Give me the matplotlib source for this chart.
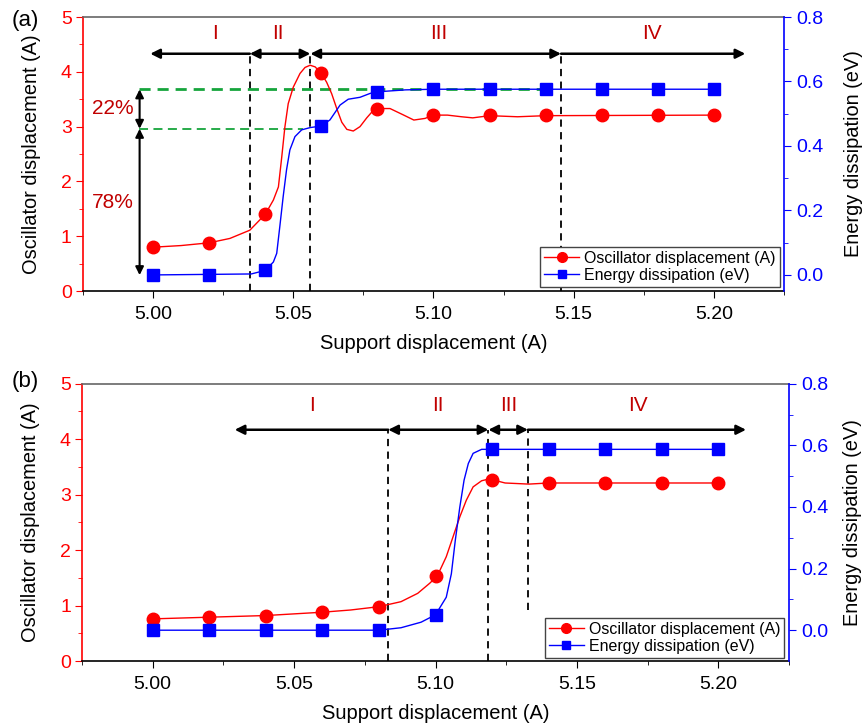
import matplotlib
matplotlib.use("Agg")
import matplotlib.pyplot as plt
import matplotlib.ticker as mtick
from matplotlib.lines import Line2D

plt.rcParams["font.family"] = ["Liberation Sans", "DejaVu Sans"]

# support displacement at the computed points
support = [5.00, 5.02, 5.04, 5.06, 5.08, 5.10, 5.12, 5.14, 5.16, 5.18, 5.20]

# panel (a)
osc_a = [0.80, 0.88, 1.40, 3.98, 3.33, 3.21, 3.21, 3.21, 3.21, 3.21, 3.21]
eng_a = [0.0, 0.0, 0.014, 0.462, 0.568, 0.576, 0.576, 0.576, 0.576, 0.576, 0.576]

# smooth curves (a)
osc_a_cx = [5.000, 5.010, 5.020, 5.0274, 5.0345, 5.040, 5.0429, 5.0447, 5.0459,
            5.047, 5.0482, 5.050, 5.0524, 5.0542, 5.056, 5.0578, 5.060, 5.0619,
            5.0637, 5.0655, 5.0673, 5.0691, 5.0714, 5.0738, 5.0762, 5.0786,
            5.080, 5.0845, 5.089, 5.093, 5.097, 5.100, 5.105, 5.110, 5.114,
            5.120, 5.130, 5.140, 5.200]
osc_a_cy = [0.80, 0.83, 0.88, 0.96, 1.11, 1.40, 1.66, 1.90, 2.45,
            2.99, 3.42, 3.72, 3.97, 4.08, 4.12, 4.09, 3.97, 3.81,
            3.60, 3.33, 3.08, 2.95, 2.92, 3.00, 3.16, 3.30,
            3.33, 3.33, 3.22, 3.12, 3.15, 3.21, 3.21, 3.18, 3.16,
            3.20, 3.18, 3.20, 3.21]
eng_a_cx = [5.000, 5.035, 5.040, 5.0429, 5.0441, 5.0452, 5.0464, 5.0476, 5.0488,
            5.0506, 5.053, 5.056, 5.060, 5.0631, 5.0667, 5.0696, 5.0738, 5.0774,
            5.080, 5.090, 5.100, 5.200]
eng_a_cy = [0.0, 0.003, 0.014, 0.040, 0.067, 0.150, 0.243, 0.326, 0.388,
            0.429, 0.450, 0.457, 0.462, 0.481, 0.527, 0.545, 0.551, 0.563,
            0.568, 0.574, 0.576, 0.576]

# panel (b)
osc_b = [0.76, 0.79, 0.82, 0.88, 0.98, 1.53, 3.27, 3.21, 3.21, 3.21, 3.21]
eng_b = [0.0, 0.0, 0.0, 0.0, 0.0, 0.05, 0.587, 0.587, 0.587, 0.587, 0.587]

osc_b_cx = [5.000, 5.020, 5.040, 5.060, 5.070, 5.080, 5.0878, 5.0937, 5.0979,
            5.1006, 5.1038, 5.1062, 5.1086, 5.1109, 5.1133, 5.1163, 5.1187,
            5.120, 5.1246, 5.133, 5.140, 5.200]
osc_b_cy = [0.76, 0.79, 0.82, 0.88, 0.92, 0.98, 1.07, 1.22, 1.40,
            1.53, 1.88, 2.24, 2.60, 2.90, 3.14, 3.25, 3.28,
            3.27, 3.21, 3.19, 3.21, 3.21]
eng_b_cx = [5.000, 5.080, 5.0878, 5.0949, 5.100, 5.1038, 5.1056, 5.107, 5.1086,
            5.1101, 5.1116, 5.1133, 5.1163, 5.200]
eng_b_cy = [0.0, 0.0, 0.008, 0.026, 0.050, 0.107, 0.183, 0.292, 0.400,
            0.487, 0.541, 0.574, 0.587, 0.587]

# stage boundaries and labels
stages = ["I", "II", "III", "IV"]
bounds_a = [4.999, 5.0345, 5.0561, 5.1455, 5.2112]
stage_x_a = [5.022, 5.0446, 5.102, 5.178]
bounds_b = [5.029, 5.0833, 5.1187, 5.1327, 5.2098]
stage_x_b = [5.0563, 5.1008, 5.1258, 5.1717]

# energy split in (a)
split_levels = [3.68, 2.96, 0.29]
split_text = ["22%", "78%"]

RED = "#ff0000"
BLUE = "#0000ff"
DARKRED = "#c00000"
GREEN = "#16a53c"


def style_axes(ax1, ax2, e_lim, right_pad=15):
    ax1.set_xlim(4.975, 5.225)
    ax1.set_ylim(0, 5)
    ax2.set_ylim(*e_lim)
    ax1.xaxis.set_major_locator(mtick.MultipleLocator(0.05))
    ax1.xaxis.set_minor_locator(mtick.AutoMinorLocator(2))
    ax1.xaxis.set_major_formatter(mtick.FormatStrFormatter("%.2f"))
    ax1.yaxis.set_major_locator(mtick.MultipleLocator(1))
    ax1.yaxis.set_minor_locator(mtick.AutoMinorLocator(2))
    ax2.yaxis.set_major_locator(mtick.FixedLocator([0.0, 0.2, 0.4, 0.6, 0.8]))
    ax2.yaxis.set_minor_locator(mtick.FixedLocator([0.1, 0.3, 0.5, 0.7]))
    ax2.yaxis.set_major_formatter(mtick.FormatStrFormatter("%.1f"))

    ax1.tick_params(axis="x", which="major", direction="out", length=5, labelsize=14, pad=6)
    ax1.tick_params(axis="x", which="minor", direction="out", length=3)
    ax1.tick_params(axis="y", which="both", colors=RED, direction="out")
    ax1.tick_params(axis="y", which="major", length=5, labelsize=14, pad=3)
    ax1.tick_params(axis="y", which="minor", length=3)
    ax2.tick_params(axis="y", which="both", colors=BLUE, direction="out")
    ax2.tick_params(axis="y", which="major", length=5, labelsize=14)
    ax2.tick_params(axis="y", which="minor", length=3)

    ax1.spines["left"].set_color(RED)
    ax1.spines["right"].set_visible(False)
    ax1.spines["top"].set_color("#666666")
    ax2.spines["right"].set_color(BLUE)
    ax2.spines["left"].set_visible(False)
    ax2.spines["top"].set_visible(False)
    ax2.spines["bottom"].set_visible(False)
    for sp in ax1.spines.values():
        sp.set_linewidth(1.2)
    ax2.spines["right"].set_linewidth(1.2)

    ax1.set_xlabel("Support displacement (A)", fontsize=14.5, labelpad=8)
    ax1.set_ylabel("Oscillator displacement (A)", fontsize=14.4, labelpad=14)
    ax2.set_ylabel("Energy dissipation (eV)", fontsize=14.4, labelpad=right_pad)


def draw_stages(ax, bounds, label_x, arrow_y, label_y, last_dash_from=None):
    styles = ["-|>", "<|-|>", "<|-|>", "-|>"]
    for i in range(4):
        if i == 0:
            start, end = bounds[1], bounds[0]
        else:
            start, end = bounds[i], bounds[i + 1]
        ax.annotate("", xy=(end, arrow_y), xytext=(start, arrow_y),
                    arrowprops=dict(arrowstyle=styles[i], color="black", lw=1.8,
                                    mutation_scale=14, shrinkA=0, shrinkB=0))
        ax.text(label_x[i], label_y, stages[i], color=DARKRED, fontsize=15,
                ha="center", va="center")
    for j, xb in enumerate(bounds[1:4]):
        y0 = 0
        if last_dash_from is not None and j == 2:
            y0 = last_dash_from
        ax.plot([xb, xb], [y0, arrow_y], color="black", lw=1.3,
                linestyle=(0, (4, 3)), zorder=2)


def draw_series(ax1, ax2, osc, eng, ocx, ocy, ecx, ecy):
    ax1.plot(ocx, ocy, color=RED, lw=1.0, zorder=3)
    ax1.plot(support, osc, linestyle="none", marker="o", markersize=9,
             color=RED, zorder=4)
    ax2.plot(ecx, ecy, color=BLUE, lw=1.0, zorder=3)
    ax2.plot(support, eng, linestyle="none", marker="s", markersize=8.5,
             color=BLUE, zorder=4)


def add_legend(ax, anchor):
    handles = [
        Line2D([], [], color=RED, lw=1.0, marker="o", markersize=7),
        Line2D([], [], color=BLUE, lw=1.0, marker="s", markersize=6),
    ]
    leg = ax.legend(handles, ["Oscillator displacement (A)", "Energy dissipation (eV)"],
                    loc="lower right", bbox_to_anchor=anchor, fontsize=11.5,
                    fancybox=False, framealpha=1, edgecolor="#444444",
                    borderpad=0.25, labelspacing=0.15, handlelength=2.2,
                    handletextpad=0.3, borderaxespad=0)
    leg.get_frame().set_linewidth(1.0)
    leg.set_zorder(10)


fig = plt.figure(figsize=(8.66, 7.24), dpi=100)

# panel (a)
ax1 = fig.add_axes([0.0958, 0.598, 0.8095, 0.3785])
ax2 = ax1.twinx()
style_axes(ax1, ax2, (-0.05, 0.8), right_pad=15)
draw_series(ax1, ax2, osc_a, eng_a, osc_a_cx, osc_a_cy, eng_a_cx, eng_a_cy)
draw_stages(ax1, bounds_a, stage_x_a, 4.33, 4.70)

ax1.plot([4.995, 5.141], [split_levels[0]] * 2, color=GREEN, lw=2.0,
         linestyle=(0, (4, 2.5)), zorder=2)
ax1.plot([4.995, 5.0535], [split_levels[1]] * 2, color=GREEN, lw=1.3,
         linestyle=(0, (5, 3)), zorder=2)
for k in range(2):
    ax1.annotate("", xy=(4.9952, split_levels[k + 1]), xytext=(4.9952, split_levels[k]),
                 arrowprops=dict(arrowstyle="<|-|>", color="black", lw=1.5,
                                 mutation_scale=12, shrinkA=0, shrinkB=0))
ax1.text(4.9855, 3.33, split_text[0], color=DARKRED, fontsize=15, ha="center", va="center")
ax1.text(4.9855, 1.62, split_text[1], color=DARKRED, fontsize=15, ha="center", va="center")
add_legend(ax2, (0.994, 0.015))
fig.text(0.013, 0.972, "(a)", fontsize=16, ha="left", va="center")

# panel (b)
bx1 = fig.add_axes([0.0947, 0.087, 0.8164, 0.383])
bx2 = bx1.twinx()
style_axes(bx1, bx2, (-0.1, 0.8), right_pad=11)
draw_series(bx1, bx2, osc_b, eng_b, osc_b_cx, osc_b_cy, eng_b_cx, eng_b_cy)
draw_stages(bx1, bounds_b, stage_x_b, 4.17, 4.60, last_dash_from=0.92)
add_legend(bx2, (0.993, 0.011))
fig.text(0.013, 0.473, "(b)", fontsize=16, ha="left", va="center")

fig.savefig("out.png", dpi=100)
